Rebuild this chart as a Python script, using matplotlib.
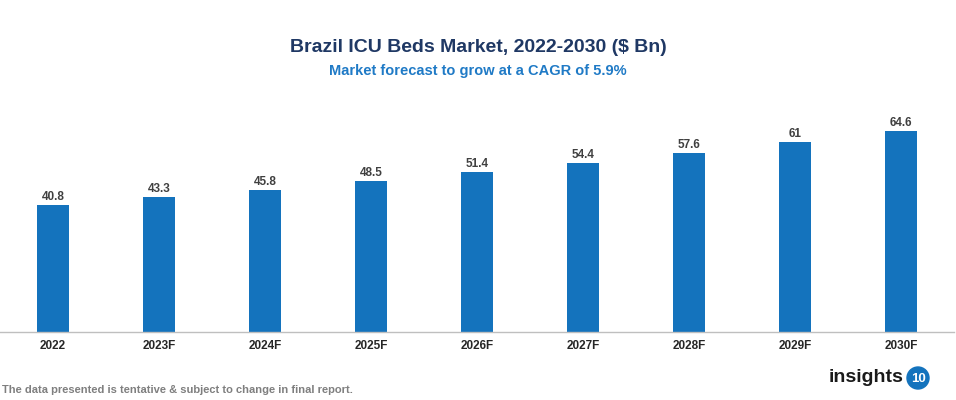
import matplotlib
matplotlib.use("Agg")
import matplotlib.pyplot as plt
from matplotlib.patches import Ellipse

categories = ["2022", "2023F", "2024F", "2025F", "2026F", "2027F", "2028F", "2029F", "2030F"]
values = [40.8, 43.3, 45.8, 48.5, 51.4, 54.4, 57.6, 61, 64.6]
value_labels = ["40.8", "43.3", "45.8", "48.5", "51.4", "54.4", "57.6", "61", "64.6"]

plt.rcParams['font.family'] = ['Liberation Sans', 'DejaVu Sans']

fig = plt.figure(figsize=(9.56, 4.0), dpi=100)
ax = fig.add_axes([0.0, 0.17, 0.998, 0.58])
x = list(range(len(categories)))
ax.bar(x, values, width=0.3, color="#1473BD", zorder=2)
ax.set_xlim(-0.5, len(categories) - 0.5)
ax.set_ylim(0, 74.6)
for xi, v, lab in zip(x, values, value_labels):
    ax.text(xi, v + 0.6, lab, ha="center", va="bottom", fontsize=8.5, fontweight="bold", color="#404040")
ax.set_xticks(x)
ax.set_xticklabels(categories, fontsize=8.5, fontweight="bold", color="#262626")
ax.tick_params(axis="x", length=0, pad=6)
ax.set_yticks([])
for s in ["top", "right", "left"]:
    ax.spines[s].set_visible(False)
ax.spines["bottom"].set_color("#BFBFBF")
ax.spines["bottom"].set_linewidth(1.0)

fig.text(0.5, 1 - 47/400, "Brazil ICU Beds Market, 2022-2030 ($ Bn)", ha="center", va="center",
         fontsize=14, fontweight="bold", color="#1F3864")
fig.text(0.5, 1 - 71/400, "Market forecast to grow at a CAGR of 5.9%", ha="center", va="center",
         fontsize=10.5, fontweight="bold", color="#1F7AC6")
fig.text(2/956, 1 - 390/400, "The data presented is tentative & subject to change in final report.",
         ha="left", va="center", fontsize=8, fontweight="bold", color="#7F7F7F")
fig.text(904/956, 1 - 378/400, "insights", ha="right", va="center", fontsize=14,
         fontweight="bold", color="#1A1A1A")
circ = Ellipse((918/956, 1 - 378/400), 22/956, 22/400, transform=fig.transFigure, color="#1473BD",
               zorder=3)
fig.patches.append(circ)
fig.text(918/956, 1 - 378.5/400, "10", ha="center", va="center", fontsize=9.5, fontweight="bold",
         color="white", zorder=4)

fig.savefig("out.png", dpi=100)
